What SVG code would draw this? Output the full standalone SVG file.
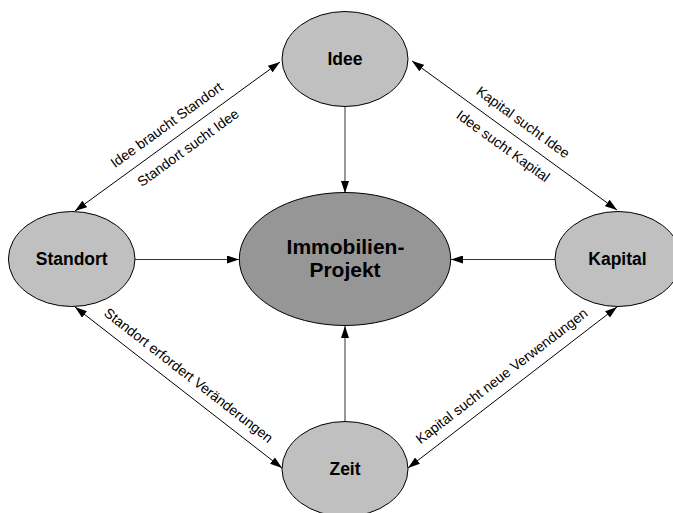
<svg xmlns="http://www.w3.org/2000/svg" width="673" height="513" viewBox="0 0 673 513">
<defs>
<marker id="arr" viewBox="0 0 12 8" refX="12" refY="4" markerWidth="12" markerHeight="8" markerUnits="userSpaceOnUse" orient="auto-start-reverse">
<path d="M0,0 L12,4 L0,8 z" fill="#000"/>
</marker>
<style>
.node{fill:#c0c0c0;stroke:#000;stroke-width:1}
.center{fill:#969696;stroke:#000;stroke-width:1}
.nl{font-family:"Liberation Sans",Arial,sans-serif;font-weight:bold;font-size:17.5px;text-anchor:middle;fill:#000}
.cl{font-family:"Liberation Sans",Arial,sans-serif;font-weight:bold;font-size:21px;text-anchor:middle;fill:#000}
.el{font-family:"Liberation Sans",Arial,sans-serif;font-size:14px;text-anchor:middle;fill:#000}
.c{stroke:#333;stroke-width:1;fill:none}
.d{stroke:#000;stroke-width:1;fill:none}
</style>
</defs>
<rect width="673" height="513" fill="#fff"/>
<g id="connectors">
<line class="c" x1="345" y1="107" x2="345" y2="193" marker-end="url(#arr)"/>
<line class="c" x1="135" y1="259.5" x2="239" y2="259.5" marker-end="url(#arr)"/>
<line class="c" x1="555" y1="259.5" x2="451" y2="259.5" marker-end="url(#arr)"/>
<line class="c" x1="345" y1="422" x2="345" y2="326" marker-end="url(#arr)"/>
<line class="d" x1="75" y1="211" x2="280" y2="62" marker-start="url(#arr)" marker-end="url(#arr)"/>
<line class="d" x1="412" y1="61" x2="617" y2="210" marker-start="url(#arr)" marker-end="url(#arr)"/>
<line class="d" x1="75" y1="307" x2="282" y2="468" marker-start="url(#arr)" marker-end="url(#arr)"/>
<line class="d" x1="408" y1="468" x2="617" y2="307" marker-start="url(#arr)" marker-end="url(#arr)"/>
<g transform="translate(177.5,136.5) rotate(-36)">
<text class="el" x="-2" y="-11">Idee braucht Standort</text>
<text class="el" x="2" y="20">Standort sucht Idee</text>
</g>
<g transform="translate(514.5,135.5) rotate(36)">
<text class="el" x="-1" y="-11">Kapital sucht Idee</text>
<text class="el" x="-3" y="20">Idee sucht Kapital</text>
</g>
<g transform="translate(178.5,387.5) rotate(37.9)">
<text class="el" x="0.5" y="-11">Standort erfordert Veränderungen</text>
</g>
<g transform="translate(512.5,387.5) rotate(-37.6)">
<text class="el" x="-1.5" y="-11">Kapital sucht neue Verwendungen</text>
</g>
</g>
<g id="idee">
<ellipse class="node" cx="345" cy="59" rx="63" ry="47.5"/>
<text class="nl" x="345" y="64.5">Idee</text>
</g>
<g id="standort">
<ellipse class="node" cx="71.7" cy="259" rx="63.3" ry="47.5"/>
<text class="nl" x="71.7" y="264.5">Standort</text>
</g>
<g id="kapital">
<ellipse class="node" cx="618" cy="259" rx="63" ry="47.5"/>
<text class="nl" x="617.5" y="264.5">Kapital</text>
</g>
<g id="zeit">
<ellipse class="node" cx="345" cy="469" rx="63" ry="47.5"/>
<text class="nl" x="345" y="474.5">Zeit</text>
</g>
<g id="projekt">
<ellipse class="center" cx="345" cy="259" rx="105.7" ry="66.5"/>
<text class="cl" x="345.5" y="253.5">Immobilien-</text>
<text class="cl" x="345" y="277">Projekt</text>
</g>
</svg>
